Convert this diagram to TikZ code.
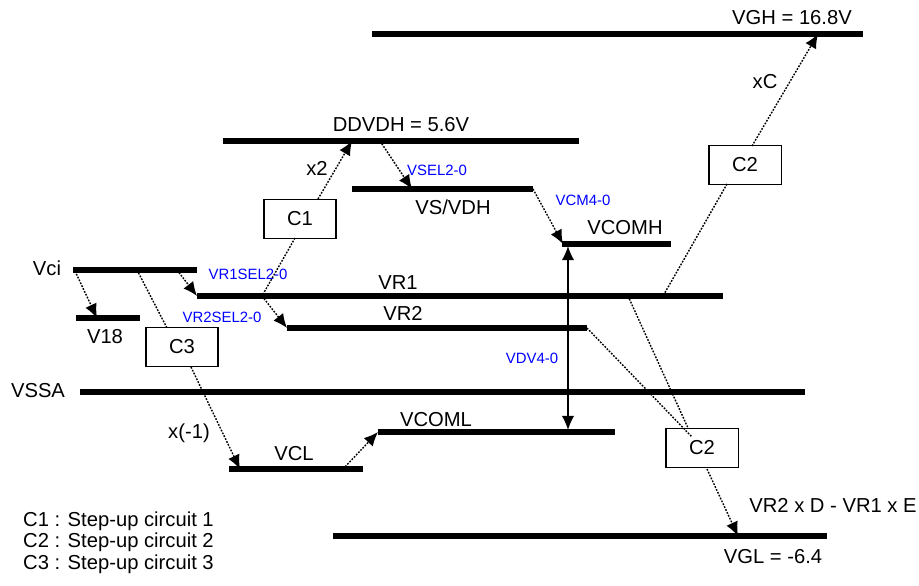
\documentclass[tikz,border=0pt]{standalone}
\usepackage{fontspec}
\setmainfont{Liberation Sans}
\usetikzlibrary{arrows.meta}
\tikzset{
	rail/.style={line width=3pt},
	link/.style={dash pattern=on 1pt off 0.8pt,line width=0.8pt},
	feed/.style={link,-{Latex[length=8pt,width=7pt]}},
	stage/.style={draw,line width=0.6pt,minimum width=41pt,minimum height=22pt,inner sep=0pt,font=\fontsize{11.5}{13}\selectfont},
	volt/.style={font=\fontsize{11.5}{13}\selectfont},
	sel/.style={text=blue,font=\fontsize{8.5}{10}\selectfont}
}
\begin{document}
\begin{tikzpicture}[x=0.02cm,y=-0.02cm]
		\useasboundingbox (0,0) rectangle (919,585);
		\coordinate (vgh-w) at (372,34);\coordinate (vgh-e) at (863,34);\coordinate (vgh-in) at (818,34);
		\coordinate (ddvdh-w) at (223,141);\coordinate (ddvdh-e) at (579,141);\coordinate (ddvdh-in) at (352,141);\coordinate (ddvdh-out) at (380,141);
		\coordinate (vsvdh-w) at (352,189);\coordinate (vsvdh-e) at (533,189);\coordinate (vsvdh-in) at (412,189);
		\coordinate (vcomh-w) at (562,244);\coordinate (vcomh-e) at (671,244);\coordinate (vcomh-in) at (563,244);\coordinate (vcomh-dv) at (568,246);
		\coordinate (vci-w) at (73,270);\coordinate (vci-e) at (197,270);\coordinate (vci-a) at (75,271);\coordinate (vci-b) at (137,270);\coordinate (vci-c) at (177,270);
		\coordinate (vr1-w) at (197,296);\coordinate (vr1-e) at (723,296);\coordinate (vr1-c) at (262,296);\coordinate (vr1-d) at (663,296);\coordinate (vr1-f) at (628,296);
		\coordinate (v18-w) at (76,318);\coordinate (v18-e) at (140,318);\coordinate (v18-in) at (97,318);
		\coordinate (vr2-w) at (287,328);\coordinate (vr2-e) at (587,328);
		\coordinate (vssa-w) at (80,392);\coordinate (vssa-e) at (805,392);
		\coordinate (vcoml-w) at (378,432);\coordinate (vcoml-e) at (615,432);\coordinate (vcoml-dv) at (568,430);
		\coordinate (vcl-w) at (229,469);\coordinate (vcl-e) at (363,469);\coordinate (vcl-in) at (240,469);\coordinate (vcl-out) at (343,469);
		\coordinate (vgl-w) at (333,536);\coordinate (vgl-e) at (827,536);\coordinate (vgl-in) at (738,536);
		\foreach \v in {vgh,ddvdh,vsvdh,vcomh,vci,vr1,v18,vr2,vssa,vcoml,vcl,vgl} \draw[rail] (\v-w) -- (\v-e);
		\node[stage] (c1) at (300,219) {C1};\node[stage] (c2u) at (745,165) {C2};\node[stage] (c3) at (182,347) {C3};\node[stage] (c2l) at (702,448) {C2};
		\coordinate (c1-s) at (295,238);\coordinate (c1-n) at (318,199);\coordinate (c2u-n) at (752,146);\coordinate (c2u-s) at (727,184);
		\coordinate (c3-n) at (167,328);\coordinate (c3-s) at (191,367);\coordinate (c2l-a) at (688,428);\coordinate (c2l-b) at (692,437);\coordinate (c2l-s) at (707,469);
		\draw[feed] (vci-a) -- (v18-in);\draw[link] (vci-b) -- (c3-n);\draw[feed] (vci-c) -- (vr1-w);
		\draw[link] (c1-s) -- (vr1-c);\draw[feed] (vr1-c) -- (vr2-w);\draw[feed] (c1-n) -- (ddvdh-in);
		\draw[feed] (ddvdh-out) -- (vsvdh-in);\draw[feed] (vsvdh-e) -- (vcomh-in);
		\draw[{Latex[length=8pt,width=7pt]}-{Latex[length=8pt,width=7pt]},line width=0.8pt] (vcomh-dv) -- (vcoml-dv);
		\draw[feed] (c2u-n) -- (vgh-in);\draw[link] (c2u-s) -- (vr1-d);\draw[link] (vr1-f) -- (c2l-a);\draw[link] (vr2-e) -- (c2l-b);
		\draw[feed] (c2l-s) -- (vgl-in);\draw[feed] (c3-s) -- (vcl-in);\draw[feed] (vcl-out) -- (vcoml-w);
		\node[volt] (vgh) at (792,18) {VGH = 16.8V};\node[volt] (ddvdh) at (401,125) {DDVDH = 5.6V};\node[volt] (vsvdh) at (453,207) {VS/VDH};
		\node[volt] (vcomh) at (625,228) {VCOMH};\node[volt] (vci) at (47,268) {Vci};\node[volt] (vr1) at (398,283) {VR1};
		\node[volt] (v18) at (105,337) {V18};\node[volt] (vr2) at (403,313) {VR2};\node[volt] (vssa) at (38,391) {VSSA};
		\node[volt] (vcoml) at (436,420) {VCOML};\node[volt] (vcl) at (294,454) {VCL};\node[volt] (vgl) at (773,557) {VGL = -6.4};
		\node[volt] (vglf) at (833,505) {VR2 x D - VR1 x E};\node[volt] (x2) at (317,168) {x2};\node[volt] (xc) at (765,82) {xC};\node[volt] (xm1) at (189,433) {x(-1)};
		\node[sel] (vr1sel) at (248,274) {VR1SEL2-0};\node[sel] (vr2sel) at (222,317) {VR2SEL2-0};\node[sel] (vsel) at (437,170) {VSEL2-0};
		\node[sel] (vcm) at (583,200) {VCM4-0};\node[sel] (vdv) at (532,358) {VDV4-0};
		\node[volt,anchor=west] (key1) at (17,521) {C1 : Step-up circuit 1};\node[volt,anchor=west] (key2) at (17,542) {C2 : Step-up circuit 2};\node[volt,anchor=west] (key3) at (17,564) {C3 : Step-up circuit 3};
	\end{tikzpicture}
\end{document}
